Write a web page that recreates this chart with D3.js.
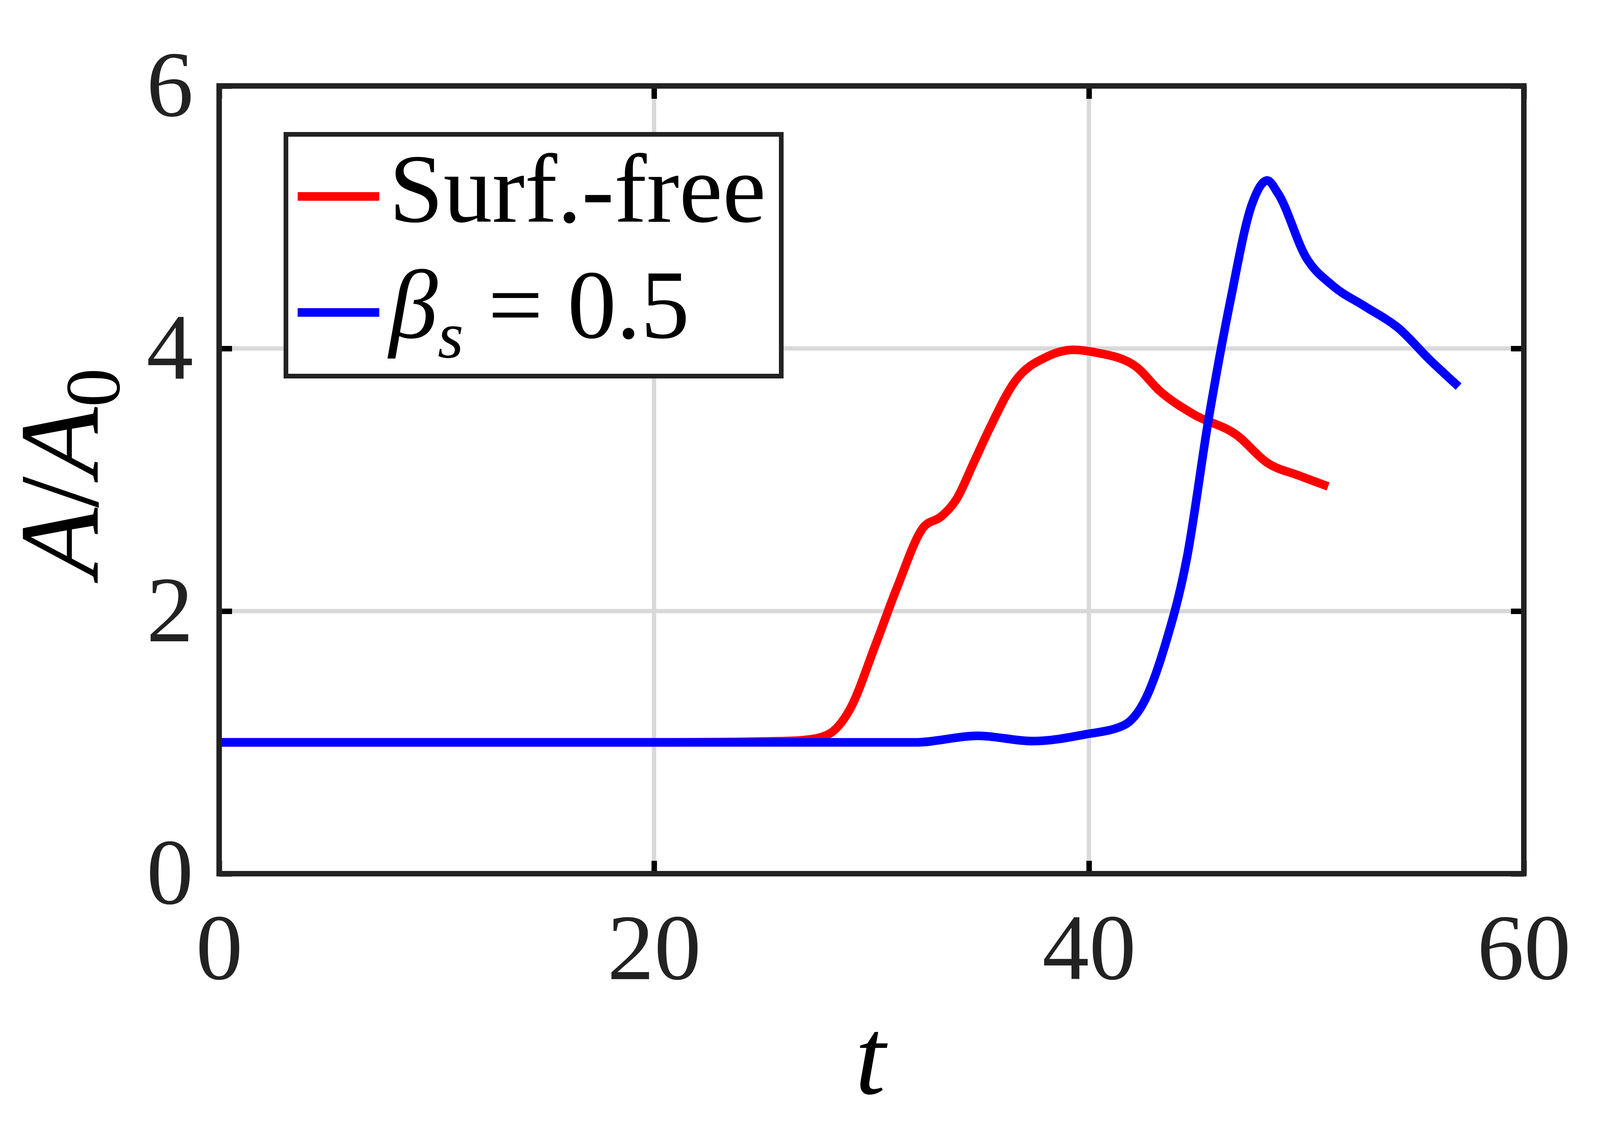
<!DOCTYPE html><html><head><meta charset="utf-8">
<script src="https://cdn.jsdelivr.net/npm/d3@7"></script>
<style>body{margin:0;background:#fff}</style></head><body>
<svg id="c" width="4292" height="2924"></svg>
<script>
const xTicks=[0,20,40,60];
const yTicks=[0,2,4,6];
const seriesNames=["Surf.-free","β_s = 0.5"];
const seriesColors=["#ff0000","#0000ff"];
const redT=[0,10,20,26,27,28,29,30.2,31.2,32.4,33.2,33.9,34.7,35.4,36.6,38.1,39.3,40.3,42.1,43.3,44.8,46.8,48.2,49.7,51.0];
const redV=[1.0,1.0,1.0,1.01,1.02,1.06,1.25,1.75,2.19,2.64,2.72,2.85,3.13,3.38,3.75,3.94,3.99,3.97,3.87,3.67,3.5,3.34,3.13,3.03,2.95];
const blueT=[0,10,20,30,32,34.9,37.4,39.8,41.6,42.6,43.5,44.5,45.5,46.5,47.5,48.2,48.7,50.0,51.2,52.7,54.2,55.7,57.0];
const blueV=[1.0,1.0,1.0,1.0,1.0,1.05,1.01,1.06,1.13,1.33,1.74,2.4,3.46,4.36,5.1,5.28,5.18,4.69,4.48,4.32,4.16,3.91,3.71];
const svg=d3.select("#c");
const L=561,R=3901,T=220,B=2237;
const x=d3.scaleLinear().domain([0,60]).range([L,R]);
const y=d3.scaleLinear().domain([0,6]).range([B,T]);
const font="'Liberation Serif','DejaVu Serif',serif";
svg.append("g").selectAll("line").data(xTicks.slice(1,-1)).join("line")
 .attr("x1",d=>x(d)).attr("x2",d=>x(d)).attr("y1",T).attr("y2",B).attr("stroke","#d9d9d9").attr("stroke-width",11);
svg.append("g").selectAll("line").data(yTicks.slice(1,-1)).join("line")
 .attr("y1",d=>y(d)).attr("y2",d=>y(d)).attr("x1",L).attr("x2",R).attr("stroke","#d9d9d9").attr("stroke-width",11);
const line=d3.line().curve(d3.curveMonotoneX);
[[redT,redV],[blueT,blueV]].forEach((s,i)=>{
 svg.append("path").attr("d",line(s[0].map((t,j)=>[x(t),y(s[1][j])]))).attr("fill","none")
  .attr("stroke",seriesColors[i]).attr("stroke-width",22);
});
const ax=svg.append("g");
const gb=ax.append("g").attr("transform",`translate(0,${B})`).call(d3.axisBottom(x).tickValues(xTicks).tickSize(-33).tickPadding(100).tickFormat(d3.format("d")));
ax.append("g").attr("transform",`translate(0,${T})`).call(d3.axisTop(x).tickValues(xTicks).tickSize(-33).tickFormat(""));
const gl=ax.append("g").attr("transform",`translate(${L},0)`).call(d3.axisLeft(y).tickValues(yTicks).tickSize(-33).tickPadding(66).tickFormat(d3.format("d")));
ax.append("g").attr("transform",`translate(${R},0)`).call(d3.axisRight(y).tickValues(yTicks).tickSize(-33).tickFormat(""));
ax.selectAll(".domain").remove();
ax.selectAll(".tick line").attr("stroke","#000").attr("stroke-width",14);
ax.selectAll(".tick text").attr("font-family",font).attr("font-size",240).attr("fill","#222");
svg.append("rect").attr("x",L).attr("y",T).attr("width",R-L).attr("height",B-T).attr("fill","none").attr("stroke","#222").attr("stroke-width",14);
svg.append("text").attr("x",2228).attr("y",2800).attr("text-anchor","middle").attr("font-family",font).attr("font-style","italic").attr("font-size",280).text("t");
const yl=svg.append("text").attr("transform","translate(250,1210) rotate(-90)").attr("text-anchor","middle").attr("font-family",font).attr("font-size",290);
yl.append("tspan").attr("font-style","italic").text("A");
yl.append("tspan").text("/");
yl.append("tspan").attr("font-style","italic").text("A");
yl.append("tspan").attr("font-size",200).attr("dy",55).text("0");
svg.append("rect").attr("x",732).attr("y",344).attr("width",1268).attr("height",619).attr("fill","#fff").attr("stroke","#222").attr("stroke-width",12);
const ly=[503,800];
seriesNames.forEach((n,i)=>{
 svg.append("line").attr("x1",762).attr("x2",971).attr("y1",ly[i]).attr("y2",ly[i]).attr("stroke",seriesColors[i]).attr("stroke-width",22);
 const t=svg.append("text").attr("x",996).attr("y",ly[i]+65).attr("font-family",font).attr("font-size",250);
 if(i==0) t.text(n);
 else{t.append("tspan").attr("font-style","italic").text("β");t.append("tspan").attr("font-style","italic").attr("font-size",170).attr("dy",50).text("s");t.append("tspan").attr("dy",-50).text(" = 0.5");}
});
</script></body></html>
